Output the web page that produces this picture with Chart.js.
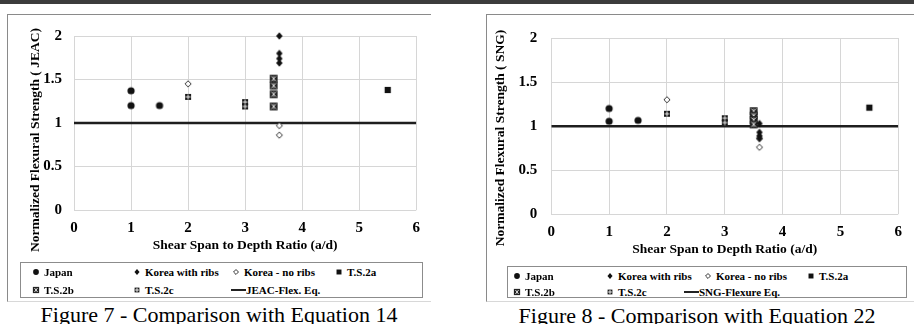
<!DOCTYPE html>
<html>
<head>
<meta charset="utf-8">
<script src="https://cdn.jsdelivr.net/npm/chart.js@4.4.1/dist/chart.umd.min.js"></script>
<style>
  body { margin: 0; width: 914px; height: 324px; position: relative; background: #fff; overflow: hidden;
         font-family: "Liberation Serif", "Times New Roman", serif; color: #000; }
  .topbar { position: absolute; left: 0; top: 0; width: 914px; height: 4px; background: #3c3c3c; }
  .frame { position: absolute; border-top: 1px solid #8a8a8a; border-left: 1px solid #8a8a8a; border-bottom: 1px solid #d8d8d8; }
  canvas.plot { position: absolute; }
  .ytitle { position: absolute; font-weight: bold; font-size: 13.5px; white-space: nowrap;
            transform: translate(-50%, -50%) rotate(-90deg); }
  .legend { position: absolute; border: 1px solid #8c8c8c; box-sizing: border-box; }
  .legend canvas { position: absolute; }
  .legend span { position: absolute; font-weight: bold; font-size: 11px; white-space: nowrap; transform: translateY(-50%); }
  .legend .eqline { position: absolute; height: 2px; background: #222; }
  .caption { position: absolute; font-size: 22px; white-space: nowrap; transform: translate(-50%, -50%); }
</style>
</head>
<body>
<div class="topbar"></div>

<div class="frame" style="left:7px;top:14px;width:423px;height:286px;"></div>
<canvas class="plot" id="fig7" width="421" height="245" style="left:8px;top:15px;"></canvas>
<div class="ytitle" style="left:35px;top:140px;">Normalized Flexural Strength ( JEAC)</div>
<div class="legend" id="leg7" style="left:20px;top:262px;width:403px;height:36px;"></div>
<div class="caption" style="left:219px;top:315px;">Figure 7 - Comparison with Equation 14</div>

<div class="frame" style="left:486px;top:14px;width:428px;height:286px;"></div>
<canvas class="plot" id="fig8" width="424" height="250" style="left:487px;top:15px;"></canvas>
<div class="ytitle" style="left:500px;top:138px;">Normalized Flexural Strength ( SNG)</div>
<div class="legend" id="leg8" style="left:507px;top:266px;width:400px;height:32px;"></div>
<div class="caption" style="left:697px;top:316px;">Figure 8 - Comparison with Equation 22</div>

<script>
// a/d values and normalized strengths
const japanX = [1, 1, 1.5];
const japanJEAC = [1.37, 1.2, 1.2];
const japanSNG = [1.2, 1.055, 1.065];

const koreaRibsX = [3.6, 3.6, 3.6, 3.6];
const koreaRibsJEAC = [2.0, 1.8, 1.74, 1.69];
const koreaRibsSNG = [1.03, 0.93, 0.89, 0.86];

const koreaNoRibsX = [2, 3.6, 3.6];
const koreaNoRibsJEAC = [1.45, 0.97, 0.86];
const koreaNoRibsSNG = [1.3, 0.86, 0.76];

const ts2aX = [5.5];
const ts2aJEAC = [1.38];
const ts2aSNG = [1.21];

const ts2bX = [3.5, 3.5, 3.5, 3.5];
const ts2bJEAC = [1.51, 1.43, 1.33, 1.19];
const ts2bSNG = [1.17, 1.12, 1.07, 1.02];

const ts2cX = [2, 3, 3];
const ts2cJEAC = [1.3, 1.24, 1.19];
const ts2cSNG = [1.14, 1.09, 1.04];

const eqX = [0, 6];
const eqY = [1, 1];

const xTitle = 'Shear Span to Depth Ratio (a/d)';
const FONT = "'Liberation Serif', 'Times New Roman', serif";

function pts(xs, ys) {
  return xs.map((x, i) => ({ x: x, y: ys[i] }));
}

// little marker bitmaps, used for the plot points and the legend
function marker(kind, k) {
  const c = document.createElement('canvas');
  const s = Math.ceil(10 * k) + 2;
  c.width = c.height = s;
  const g = c.getContext('2d');
  const m = s / 2;
  g.fillStyle = '#111';
  if (kind === 'circle') {
    g.beginPath(); g.arc(m, m, 3.6 * k, 0, Math.PI * 2); g.fill();
  } else if (kind === 'diamond' || kind === 'diamondOpen') {
    const w = (kind === 'diamond' ? 3.2 : 3.1) * k, h = (kind === 'diamond' ? 3.8 : 3.1) * k;
    g.beginPath(); g.moveTo(m, m - h); g.lineTo(m + w, m); g.lineTo(m, m + h); g.lineTo(m - w, m); g.closePath();
    if (kind === 'diamond') { g.fill(); }
    else { g.fillStyle = '#fff'; g.fill(); g.strokeStyle = '#333'; g.lineWidth = 1; g.stroke(); }
  } else if (kind === 'square') {
    const a = 3.1 * k;
    g.fillRect(m - a, m - a, 2 * a, 2 * a);
  } else if (kind === 'tsb') {
    const a = 3.9 * k;
    g.fillStyle = '#222';
    g.fillRect(m - a, m - a, 2 * a, 2 * a);
    g.strokeStyle = '#ddd'; g.lineWidth = 0.9;
    const b = a - 1.4;
    g.beginPath();
    g.moveTo(m - b, m - b); g.lineTo(m + b, m + b);
    g.moveTo(m + b, m - b); g.lineTo(m - b, m + b);
    g.moveTo(m, m - b); g.lineTo(m, m + b);
    g.stroke();
  } else if (kind === 'tsc') {
    const a = 3 * k;
    g.fillStyle = '#1a1a1a';
    g.fillRect(m - a, m - a, 2 * a, 2 * a);
    g.fillStyle = '#eee';
    g.fillRect(m - 0.5, m - a + 0.5, 1, 2 * a - 1);
    g.fillRect(m - a + 0.5, m - 0.5, 2 * a - 1, 1);
  }
  return c;
}

const seriesStyle = {
  'Japan': 'circle',
  'Korea with ribs': 'diamond',
  'Korea - no ribs': 'diamondOpen',
  'T.S.2a': 'square',
  'T.S.2b': 'tsb',
  'T.S.2c': 'tsc'
};

function pointSet(label, xs, ys) {
  return {
    label: label,
    data: pts(xs, ys),
    pointStyle: marker(seriesStyle[label], 1),
    pointRadius: 4,
    clip: false
  };
}

function makeChart(id, series, eqLabel, o) {
  const sets = series.map(s => pointSet(s[0], s[1], s[2]));
  sets.push({
    label: eqLabel,
    data: pts(eqX, eqY),
    showLine: true,
    borderColor: '#1e1e1e',
    borderWidth: 2.5,
    pointRadius: 0,
    order: 10
  });
  return new Chart(document.getElementById(id), {
    type: 'scatter',
    data: { datasets: sets },
    options: {
      responsive: false,
      animation: false,
      layout: { padding: { left: 0, right: o.padRight, top: o.padTop, bottom: 0 } },
      plugins: { legend: { display: false }, tooltip: { enabled: false } },
      scales: {
        x: {
          type: 'linear', min: 0, max: 6,
          ticks: { stepSize: 1, padding: o.xTickPad, color: '#000', font: { family: FONT, size: 15, weight: 'bold' } },
          grid: { color: '#d6d6d6', drawTicks: false },
          border: { display: false },
          title: { display: true, text: xTitle, color: '#000', padding: { top: 0, bottom: o.titlePad },
                   font: { family: FONT, size: 13.5, weight: 'bold' } },
          afterFit: s => { s.height = o.xHeight; }
        },
        y: {
          min: 0, max: 2,
          ticks: { stepSize: 0.5, padding: o.yTickPad, color: '#000', font: { family: FONT, size: 15, weight: 'bold' },
                   callback: v => String(v) },
          grid: { color: '#d6d6d6', drawTicks: false },
          border: { display: false },
          afterFit: s => { s.width = o.yWidth; }
        }
      }
    }
  });
}

// legend boxes below each plot, built from the chart's datasets
function makeLegend(chart, boxId, cols, rows, eqStart) {
  const box = document.getElementById(boxId);
  const slots = [[0, 0], [1, 0], [2, 0], [3, 0], [0, 1], [1, 1]];
  chart.data.datasets.forEach((ds, i) => {
    const span = document.createElement('span');
    span.textContent = ds.label;
    if (ds.showLine) {
      const ln = document.createElement('div');
      ln.className = 'eqline';
      ln.style.left = eqStart + 'px';
      ln.style.width = '15px';
      ln.style.top = (rows[1] - 1) + 'px';
      box.appendChild(ln);
      span.style.left = (eqStart + 15) + 'px';
      span.style.top = rows[1] + 'px';
    } else {
      const c = marker(seriesStyle[ds.label], 0.8);
      const cx = cols[slots[i][0]], cy = rows[slots[i][1]];
      c.style.left = (cx - c.width / 2) + 'px';
      c.style.top = (cy - c.height / 2) + 'px';
      box.appendChild(c);
      span.style.left = (cx + 8) + 'px';
      span.style.top = cy + 'px';
    }
    box.appendChild(span);
  });
}

const fig7 = makeChart('fig7', [
  ['Japan', japanX, japanJEAC],
  ['Korea with ribs', koreaRibsX, koreaRibsJEAC],
  ['Korea - no ribs', koreaNoRibsX, koreaNoRibsJEAC],
  ['T.S.2a', ts2aX, ts2aJEAC],
  ['T.S.2b', ts2bX, ts2bJEAC],
  ['T.S.2c', ts2cX, ts2cJEAC]
], 'JEAC-Flex. Eq.', { padRight: 10, padTop: 15, xHeight: 50, yWidth: 66, xTickPad: 9, yTickPad: 12, titlePad: 6 });

const fig8 = makeChart('fig8', [
  ['Japan', japanX, japanSNG],
  ['Korea with ribs', koreaRibsX, koreaRibsSNG],
  ['Korea - no ribs', koreaNoRibsX, koreaNoRibsSNG],
  ['T.S.2a', ts2aX, ts2aSNG],
  ['T.S.2b', ts2bX, ts2bSNG],
  ['T.S.2c', ts2cX, ts2cSNG]
], 'SNG-Flexure Eq.', { padRight: 12, padTop: 15, xHeight: 50.7, yWidth: 64.3, xTickPad: 9, yTickPad: 14, titlePad: 7 });

makeLegend(fig7, 'leg7', [15, 116, 215, 318], [9, 27], 210);
makeLegend(fig8, 'leg8', [9, 102, 200, 303], [9, 24.5], 176);
</script>
</body>
</html>
